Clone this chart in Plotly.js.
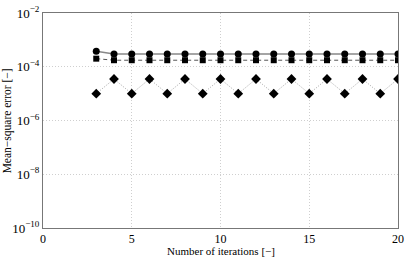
<!DOCTYPE html>
<html><head><meta charset="utf-8">
<script src="https://cdn.plot.ly/plotly-3.0.1.min.js"></script>
<style>html,body{margin:0;padding:0;background:#fff}</style>
</head><body><div id="plot" style="width:407px;height:257px"></div>
<script>
const iterations = [3,4,5,6,7,8,9,10,11,12,13,14,15,16,17,18,19,20];
const circleSeries = [3.8e-4,3.0e-4,3.0e-4,3.0e-4,3.0e-4,3.0e-4,3.0e-4,3.0e-4,3.0e-4,3.0e-4,3.0e-4,3.0e-4,3.0e-4,3.0e-4,3.0e-4,3.0e-4,3.0e-4,3.0e-4];
const squareSeries = [2.0e-4,1.75e-4,1.75e-4,1.75e-4,1.75e-4,1.75e-4,1.75e-4,1.75e-4,1.75e-4,1.75e-4,1.75e-4,1.75e-4,1.75e-4,1.75e-4,1.75e-4,1.75e-4,1.75e-4,1.75e-4];
const diamondSeries = [1e-5,3.5e-5,1e-5,3.5e-5,1e-5,3.5e-5,1e-5,3.5e-5,1e-5,3.5e-5,1e-5,3.5e-5,1e-5,3.5e-5,1e-5,3.5e-5,1e-5,3.5e-5];
const yTickVals = [1e-10,1e-8,1e-6,1e-4,1e-2];
const yTickText = ['10<sup>−10</sup>','10<sup>−8</sup>','10<sup>−6</sup>','10<sup>−4</sup>','10<sup>−2</sup>'];
const xTickVals = [0,5,10,15,20];
const xTitle = 'Number of iterations [−]';
const yTitle = 'Mean−square error [−]';

const traces = [
  {x: iterations, y: diamondSeries, mode:'lines+markers', line:{color:'#a8a8a8', width:1, dash:'1px,1.5px'}, marker:{symbol:'diamond', size:7.5, color:'#000'}},
  {x: iterations, y: squareSeries, mode:'lines+markers', line:{color:'#555', width:1, dash:'4px,3px'}, marker:{symbol:'square', size:6, color:'#000'}},
  {x: iterations, y: circleSeries, mode:'lines+markers', line:{color:'#888', width:1.5}, marker:{symbol:'circle', size:7, color:'#000'}}
];
const fam = 'Liberation Serif, Times New Roman, serif';
const layout = {
  width:407, height:257, showlegend:false,
  margin:{l:43, r:9, t:13, b:29},
  paper_bgcolor:'#fff', plot_bgcolor:'#fff', font:{family:fam, size:13, color:'#000'},
  xaxis:{range:[0,20], tickvals:xTickVals, ticktext:xTickVals.map(String), showgrid:true, gridcolor:'#cfcfcf', griddash:'1px,2px', gridwidth:1,
    showline:true, mirror:true, linecolor:'#777', linewidth:1, ticks:'', zeroline:false, tickfont:{family:fam, size:12, color:'#000'}},
  yaxis:{type:'log', range:[-10,-2], tickvals:yTickVals, ticktext:yTickText, showgrid:true, gridcolor:'#cfcfcf', griddash:'1px,2px', gridwidth:1,
    showline:true, mirror:true, linecolor:'#777', linewidth:1, ticks:'', zeroline:false, tickfont:{family:fam, size:13, color:'#000'}},
  annotations:[
    {text:xTitle, xref:'paper', yref:'paper', x:0.5, y:-0.106, xanchor:'center', yanchor:'middle', showarrow:false, borderpad:0, font:{family:fam, size:11, color:'#000'}},
    {text:yTitle, xref:'paper', yref:'paper', x:-0.099, y:0.5, xanchor:'center', yanchor:'middle', textangle:-90, showarrow:false, font:{family:fam, size:11.5, color:'#000'}}
  ]
};
Plotly.newPlot('plot', traces, layout, {displayModeBar:false, staticPlot:true});
</script></body></html>
